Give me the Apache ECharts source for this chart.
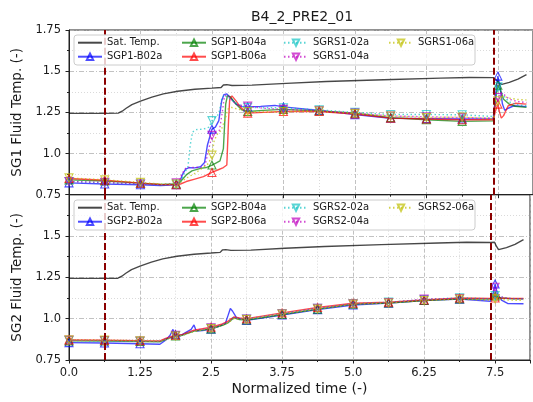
<!DOCTYPE html>
<html><head><meta charset="utf-8">
<script src="https://cdn.jsdelivr.net/npm/echarts@6/dist/echarts.min.js"></script>
<style>html,body{margin:0;padding:0;background:#fff}#c{width:533px;height:402px}</style>
</head><body><div id="c"></div>
<script>
// ---- data ----
const titleText = 'B4_2_PRE2_01';
const xName = 'Normalized time (-)';
const yNames = ['SG1 Fluid Temp. (-)', 'SG2 Fluid Temp. (-)'];
const xTickLabels = ['0.0','1.25','2.5','3.75','5.0','6.25','7.5'];
const yTickLabels = ['0.75','1.0','1.25','1.5','1.75'];
const vLines = [0.63, 7.42];
const markerStep = 0.625;
const markerLast = 7.5;
const names1 = ['Sat. Temp.','SGP1-B02a','SGP1-B04a','SGP1-B06a','SGRS1-02a','SGRS1-04a','SGRS1-06a'];
const names2 = ['Sat. Temp.','SGP2-B02a','SGP2-B04a','SGP2-B06a','SGRS2-02a','SGRS2-04a','SGRS2-06a'];

const sat1 = [[0,1.244],[0.62,1.244],[0.86,1.245],[0.93,1.257],[1.0,1.275],[1.1,1.297],[1.25,1.318],[1.45,1.342],[1.65,1.362],[1.9,1.378],[2.2,1.39],[2.5,1.397],[2.66,1.401],[2.7,1.416],[2.76,1.418],[2.85,1.413],[3.2,1.415],[3.8,1.426],[4.5,1.437],[5.5,1.448],[6.5,1.458],[7.0,1.462],[7.42,1.461],[7.47,1.448],[7.52,1.428],[7.57,1.42],[7.7,1.432],[7.85,1.452],[8.0,1.479]];
const b02a_1 = [[0,0.822],[0.625,0.815],[1.25,0.81],[1.6,0.806],[1.875,0.81],[1.93,0.82],[1.98,0.87],[2.04,0.905],[2.1,0.914],[2.2,0.913],[2.3,0.92],[2.37,0.945],[2.42,1.05],[2.5,1.148],[2.56,1.16],[2.62,1.2],[2.67,1.32],[2.71,1.358],[2.76,1.362],[2.82,1.34],[2.92,1.3],[3.02,1.285],[3.125,1.283],[3.35,1.286],[3.6,1.292],[3.75,1.283],[4.375,1.262],[5.0,1.236],[5.625,1.214],[6.25,1.212],[6.875,1.21],[7.42,1.212],[7.46,1.36],[7.5,1.47],[7.54,1.4],[7.58,1.3],[7.62,1.262],[7.68,1.275],[7.78,1.29],[8.0,1.285]];
const b04a_1 = [[0,0.84],[0.625,0.833],[1.25,0.82],[1.6,0.812],[1.875,0.815],[1.95,0.83],[2.05,0.87],[2.15,0.895],[2.3,0.91],[2.4,0.915],[2.5,0.93],[2.56,0.94],[2.64,0.955],[2.7,1.03],[2.74,1.3],[2.77,1.35],[2.82,1.345],[2.92,1.3],[3.02,1.265],[3.125,1.255],[3.4,1.262],[3.75,1.268],[4.375,1.258],[5.0,1.245],[5.625,1.218],[6.25,1.205],[6.875,1.195],[7.42,1.198],[7.46,1.33],[7.5,1.415],[7.54,1.39],[7.6,1.33],[7.7,1.3],[7.8,1.287],[8.0,1.28]];
const b06a_1 = [[0,0.848],[0.625,0.838],[1.25,0.82],[1.6,0.812],[1.875,0.81],[1.95,0.815],[2.05,0.83],[2.2,0.845],[2.35,0.86],[2.5,0.885],[2.6,0.9],[2.7,0.915],[2.76,0.93],[2.79,1.2],[2.81,1.33],[2.85,1.35],[2.92,1.32],[3.0,1.28],[3.125,1.245],[3.4,1.25],[3.75,1.255],[4.375,1.255],[5.0,1.24],[5.625,1.215],[6.25,1.21],[6.875,1.205],[7.42,1.205],[7.46,1.26],[7.5,1.3],[7.53,1.25],[7.56,1.215],[7.6,1.23],[7.68,1.29],[7.8,1.305],[8.0,1.3]];
const rs02a_1 = [[0,0.83],[0.625,0.822],[1.25,0.815],[1.6,0.81],[1.875,0.815],[1.95,0.83],[2.02,0.88],[2.08,0.92],[2.12,1.05],[2.16,1.13],[2.22,1.145],[2.35,1.148],[2.45,1.16],[2.5,1.2],[2.56,1.22],[2.62,1.24],[2.67,1.33],[2.71,1.355],[2.78,1.34],[2.9,1.31],[3.02,1.29],[3.125,1.28],[3.4,1.278],[3.75,1.278],[4.375,1.265],[5.0,1.25],[5.625,1.237],[6.25,1.237],[6.875,1.235],[7.42,1.225],[7.46,1.33],[7.5,1.405],[7.55,1.38],[7.62,1.34],[7.72,1.31],[7.85,1.295],[8.0,1.29]];
const rs04a_1 = [[0,0.83],[0.625,0.825],[1.25,0.815],[1.6,0.81],[1.875,0.822],[1.93,0.835],[1.98,0.88],[2.04,0.91],[2.1,0.916],[2.2,0.915],[2.3,0.915],[2.38,0.93],[2.44,1.02],[2.5,1.11],[2.56,1.125],[2.63,1.14],[2.68,1.25],[2.72,1.35],[2.77,1.355],[2.85,1.32],[2.95,1.295],[3.125,1.288],[3.4,1.275],[3.75,1.268],[4.375,1.26],[5.0,1.245],[5.625,1.228],[6.25,1.223],[6.875,1.218],[7.42,1.215],[7.46,1.3],[7.5,1.34],[7.55,1.37],[7.6,1.36],[7.7,1.33],[7.85,1.315],[8.0,1.31]];
const rs06a_1 = [[0,0.852],[0.625,0.84],[1.25,0.825],[1.6,0.815],[1.875,0.815],[1.95,0.825],[2.05,0.85],[2.2,0.88],[2.35,0.915],[2.44,0.94],[2.5,0.99],[2.54,1.08],[2.6,1.12],[2.66,1.14],[2.7,1.18],[2.74,1.22],[2.78,1.27],[2.84,1.28],[2.95,1.27],[3.125,1.255],[3.4,1.252],[3.75,1.255],[4.375,1.258],[5.0,1.243],[5.625,1.228],[6.25,1.218],[6.875,1.222],[7.42,1.212],[7.46,1.28],[7.5,1.32],[7.55,1.35],[7.62,1.345],[7.72,1.335],[7.85,1.328],[8.0,1.325]];

const sat2 = [[0,1.244],[0.62,1.244],[0.86,1.245],[0.93,1.257],[1.0,1.275],[1.1,1.297],[1.25,1.318],[1.45,1.342],[1.65,1.362],[1.9,1.378],[2.2,1.39],[2.5,1.397],[2.66,1.401],[2.7,1.416],[2.76,1.418],[2.85,1.413],[3.2,1.415],[3.8,1.426],[4.5,1.437],[5.5,1.448],[6.5,1.458],[7.0,1.462],[7.42,1.461],[7.45,1.45],[7.49,1.462],[7.52,1.44],[7.56,1.418],[7.7,1.43],[7.85,1.45],[8.0,1.478]];
const b02a_2 = [[0,0.855],[0.625,0.853],[1.25,0.848],[1.6,0.845],[1.7,0.87],[1.78,0.9],[1.83,0.935],[1.86,0.905],[1.875,0.905],[1.95,0.895],[2.05,0.915],[2.15,0.935],[2.2,0.962],[2.24,0.925],[2.35,0.928],[2.5,0.937],[2.65,0.955],[2.75,0.97],[2.8,1.02],[2.84,1.062],[2.88,1.045],[2.95,1.005],[3.125,0.99],[3.4,1.003],[3.75,1.022],[4.375,1.055],[5.0,1.083],[5.625,1.094],[6.25,1.11],[6.875,1.118],[7.42,1.105],[7.47,1.16],[7.5,1.21],[7.54,1.15],[7.62,1.11],[7.72,1.092],[8.0,1.09]];
const b04a_2 = [[0,0.866],[0.625,0.865],[1.25,0.862],[1.6,0.86],[1.7,0.875],[1.875,0.895],[2.0,0.9],[2.2,0.925],[2.5,0.938],[2.7,0.96],[2.8,0.975],[2.9,1.005],[3.0,0.995],[3.125,0.992],[3.75,1.025],[4.375,1.058],[5.0,1.088],[5.625,1.095],[6.25,1.11],[6.875,1.12],[7.42,1.118],[7.5,1.137],[7.6,1.125],[7.8,1.12],[8.0,1.12]];
const b06a_2 = [[0,0.872],[0.625,0.87],[1.25,0.867],[1.6,0.866],[1.7,0.88],[1.875,0.9],[2.0,0.905],[2.2,0.93],[2.5,0.948],[2.7,0.968],[2.8,0.985],[2.9,1.01],[3.0,1.005],[3.125,1.0],[3.75,1.035],[4.375,1.068],[5.0,1.093],[5.625,1.1],[6.25,1.113],[6.875,1.125],[7.42,1.123],[7.5,1.125],[7.6,1.125],[7.8,1.123],[8.0,1.122]];
const rs02a_2 = [[0,0.868],[0.625,0.866],[1.25,0.863],[1.6,0.862],[1.7,0.877],[1.875,0.898],[2.0,0.9],[2.2,0.925],[2.5,0.942],[2.7,0.963],[2.8,0.98],[2.9,1.008],[3.0,1.0],[3.125,0.997],[3.75,1.03],[4.375,1.063],[5.0,1.09],[5.625,1.1],[6.25,1.115],[6.875,1.127],[7.42,1.12],[7.5,1.14],[7.6,1.13],[7.8,1.122],[8.0,1.12]];
const rs04a_2 = [[0,0.87],[0.625,0.868],[1.25,0.865],[1.6,0.863],[1.7,0.878],[1.875,0.9],[2.0,0.902],[2.2,0.928],[2.5,0.945],[2.7,0.965],[2.8,0.98],[2.9,1.005],[3.0,1.0],[3.125,0.998],[3.75,1.03],[4.375,1.063],[5.0,1.09],[5.625,1.097],[6.25,1.118],[6.875,1.122],[7.42,1.118],[7.47,1.17],[7.5,1.19],[7.55,1.15],[7.65,1.125],[7.8,1.12],[8.0,1.12]];
const rs06a_2 = [[0,0.872],[0.625,0.87],[1.25,0.866],[1.6,0.864],[1.7,0.872],[1.875,0.895],[2.0,0.9],[2.2,0.922],[2.5,0.94],[2.7,0.96],[2.8,0.975],[2.9,1.0],[3.0,0.998],[3.125,0.995],[3.75,1.028],[4.375,1.058],[5.0,1.088],[5.625,1.095],[6.25,1.11],[6.875,1.118],[7.42,1.112],[7.5,1.12],[7.6,1.115],[7.8,1.112],[8.0,1.11]];

// ---- styling / layout ----
const FONT = 'DejaVu Sans';
const colors = ['rgba(0,0,0,0.72)','rgba(0,0,255,0.7)','rgba(0,128,0,0.7)','rgba(255,0,0,0.7)','rgba(0,191,191,0.65)','rgba(191,0,191,0.7)','rgba(191,191,0,0.7)'];
const dotted = [false,false,false,false,true,true,true];
const down = [false,false,false,false,true,true,true];
const grids = [{left:69, top:30, width:466, height:164.7},{left:69, top:194.7, width:466, height:165.3}];

function isMarker(t){ const k=t/markerStep; return Math.abs(k-Math.round(k))<1e-6 && t<=markerLast+1e-9; }

function mkSeries(gi, idx, name, data){
  const c = colors[idx];
  const s = {type:'line', name, xAxisIndex:gi, yAxisIndex:gi, animation:false, silent:true,
    lineStyle:{color:c, width:1.4, type: dotted[idx]?[1.5,2.5]:'solid'}, emphasis:{disabled:true}};
  if (idx===0){
    s.symbol='none'; s.showSymbol=false; s.itemStyle={color:c};
    s.data=data;
    s.markLine={silent:true, symbol:['none','none'], label:{show:false}, animation:false,
      lineStyle:{color:'#8b0000', type:[7,3], width:2},
      data: vLines.map(v=>({xAxis:v}))};
  } else {
    s.symbol='triangle'; s.symbolSize=8; s.symbolRotate = down[idx]?180:0; s.showSymbol=true;
    s.itemStyle={color:'rgba(255,255,255,0)', borderColor:c, borderWidth:1.1};
    s.data=data.map(p=> isMarker(p[0]) ? {value:p} : {value:p, symbol:'none'});
  }
  return s;
}

const series = [];
[sat1,b02a_1,b04a_1,b06a_1,rs02a_1,rs04a_1,rs06a_1].forEach((d,i)=>series.push(mkSeries(0,i,names1[i],d)));
[sat2,b02a_2,b04a_2,b06a_2,rs02a_2,rs04a_2,rs06a_2].forEach((d,i)=>series.push(mkSeries(1,i,names2[i],d)));

const gridLineMajorX = {show:true, lineStyle:{color:'#b3b3b3', width:0.8, type:[4,2]}};
const gridLineMajorY = {show:true, lineStyle:{color:'#b3b3b3', width:0.8, type:[5,2,1,2]}};
const gridLineMinor = {show:true, lineStyle:{color:'#d0d0d0', width:0.8, type:[1,2]}};
const axisLineStyle = {show:true, onZero:false, lineStyle:{color:'#222', width:1}};
const xMax = 466/57.43;

function xAxis(gi){
  return {type:'value', gridIndex:gi, min:0, max:xMax, interval:1.25,
    axisLine:axisLineStyle, axisTick:{show:true, length:3.5, lineStyle:{color:'#222'}},
    minorTick:{show:true, splitNumber:2, length:2, lineStyle:{color:'#222'}},
    splitLine:gridLineMajorX, minorSplitLine:gridLineMinor,
    axisLabel:{show:gi===1, fontFamily:FONT, fontSize:11.5, color:'#1a1a1a', margin:7,
      formatter:v=>{const k=Math.round(v/1.25); return Math.abs(v-k*1.25)<1e-6 && k<xTickLabels.length ? xTickLabels[k] : '';}},
    name: gi===1 ? xName : '', nameLocation:'middle', nameGap:22,
    nameTextStyle:{fontFamily:FONT, fontSize:14, color:'#1a1a1a'}};
}
function yAxis(gi){
  return {type:'value', gridIndex:gi, min:0.75, max:1.75, interval:0.25,
    axisLine:axisLineStyle, axisTick:{show:true, length:3.5, lineStyle:{color:'#222'}},
    minorTick:{show:true, splitNumber:2, length:2, lineStyle:{color:'#222'}},
    splitLine:gridLineMajorY, minorSplitLine:gridLineMinor,
    axisLabel:{fontFamily:FONT, fontSize:11.5, color:'#1a1a1a', margin:8,
      formatter:v=>{const k=Math.round((v-0.75)/0.25); if (gi===1 && k===4) return ''; return yTickLabels[k]||'';}},
    name:yNames[gi], nameLocation:'middle', nameGap:45, nameRotate:90,
    nameTextStyle:{fontFamily:FONT, fontSize:13.5, color:'#1a1a1a'}};
}

const legendCols = [[0,1],[2,3],[4,5],[6]];
const legendLefts = [77,181,283,388];
const legendRowTop = [42.7, 207.7];
const legends = [];
[names1,names2].forEach((nm,gi)=>{
  legendCols.forEach((col,ci)=>{
    legends.push({orient:'vertical', left:legendLefts[ci], top:legendRowTop[gi]-7, padding:0, itemGap:0,
      itemWidth:24, itemHeight:8, selectedMode:false, z:10,
      textStyle:{fontFamily:FONT, fontSize:10, lineHeight:14, color:'#1a1a1a'},
      data: col.map(i=> i===0 ? {name:nm[i], itemStyle:{color:'rgba(0,0,0,0)', borderColor:'rgba(0,0,0,0)', opacity:0}} : nm[i])});
  });
});

const graphic = [
  {type:'rect', z:8, shape:{x:74, y:35, width:401, height:30, r:3}, style:{fill:'rgba(255,255,255,0.8)', stroke:'#cccccc', lineWidth:1}},
  {type:'rect', z:8, shape:{x:74, y:200, width:401, height:30, r:3}, style:{fill:'rgba(255,255,255,0.8)', stroke:'#cccccc', lineWidth:1}},
  {type:'text', z:10, x:302, y:17, style:{text:titleText, font:'14px "DejaVu Sans"', fill:'#1a1a1a', textAlign:'center', textVerticalAlign:'middle'}}
];

const chart = echarts.init(document.getElementById('c'), null, {renderer:'canvas'});
chart.setOption({
  animation:false,
  grid: grids.map(g=>Object.assign({show:true, borderColor:'#222', borderWidth:1, backgroundColor:'rgba(0,0,0,0)', containLabel:false}, g)),
  xAxis:[xAxis(0), xAxis(1)],
  yAxis:[yAxis(0), yAxis(1)],
  legend: legends,
  graphic,
  series
});
</script></body></html>
